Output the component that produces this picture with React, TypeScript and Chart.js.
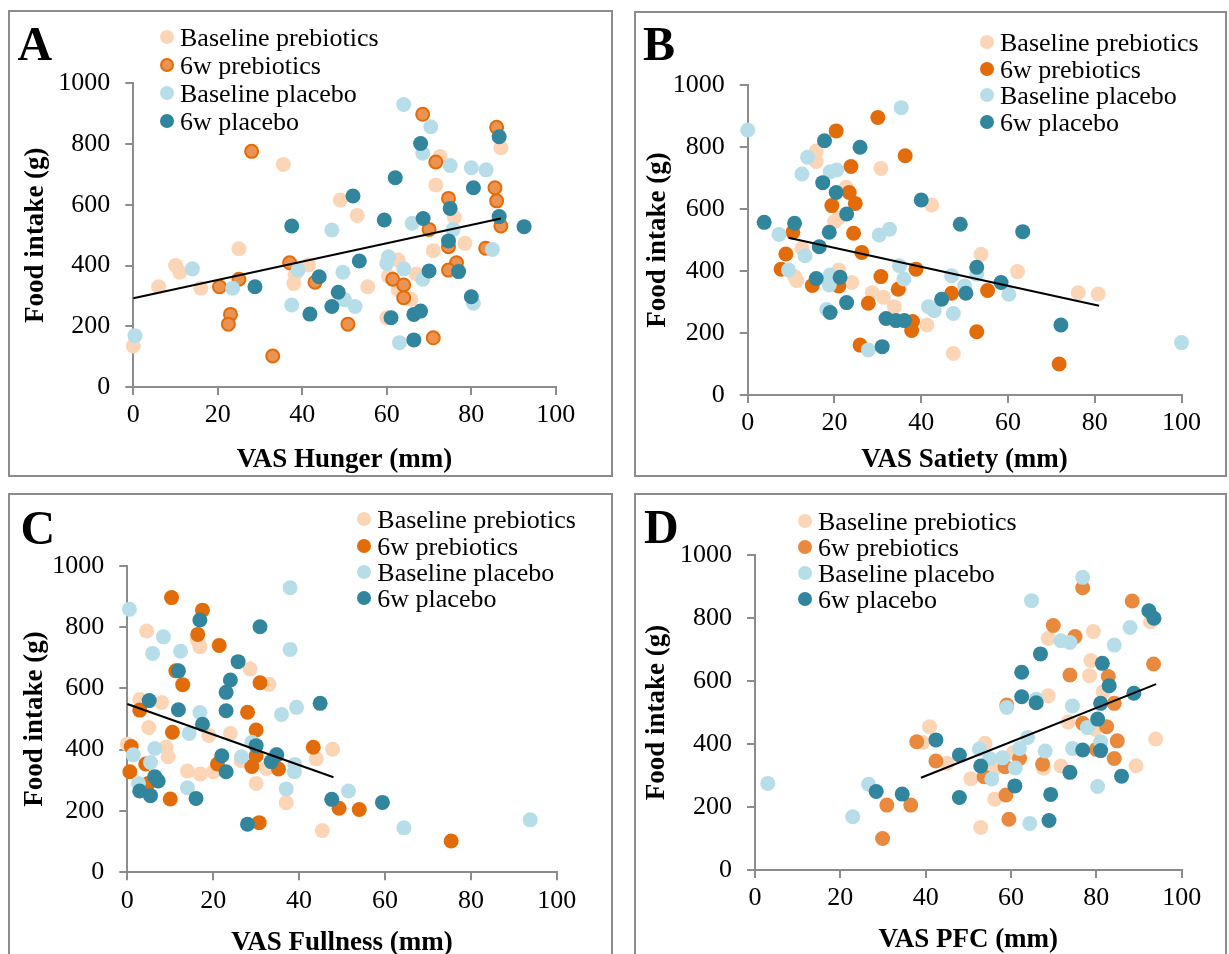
import React, { useEffect, useRef } from "react";
import { Chart, registerables } from "chart.js";

Chart.register(...registerables);

const FONT = "'Liberation Serif', 'Times New Roman', serif";

const SERIES_NAMES = ["Baseline prebiotics", "6w prebiotics", "Baseline placebo", "6w placebo"];
const X_MIN = 0, X_MAX = 100, X_STEP = 20;
const Y_MIN = 0, Y_MAX = 1000, Y_STEP = 200;
const Y_TITLE = "Food intake (g)";
const X_TITLES = ["VAS Hunger (mm)", "VAS Satiety (mm)", "VAS Fullness (mm)", "VAS PFC (mm)"];
const PANEL_LETTERS = ["A", "B", "C", "D"];

// ---- Panel A: VAS Hunger ----
const aBasePre = [[0,135],[6,330],[10,400],[11,378],[16,325],[25,455],[35.5,733],[38,341],[38.3,372],[41.5,402],[49,616],[72.6,759],[87,788],[71.6,665],[76,558],[53,565],[78.5,473],[71,449],[55.5,330],[62.7,418],[60.4,365],[62.7,320],[65.7,289],[60,228],[67,372]];
const a6wPre = [[28,776],[20.4,330],[25,355],[23,239],[22.5,207],[33,102],[37,409],[43,345],[50.8,207],[68.5,898],[86,855],[71.6,741],[85.6,656],[86,613],[74.6,621],[70,519],[74.6,462],[87,530],[83.4,457],[76.5,409],[74.6,385],[61.4,355],[64,336],[64,294],[71,162]];
const aBasePla = [[0.4,169],[14,389],[23.5,325],[37.5,270],[39,385],[47,517],[49.6,378],[50,287],[52.5,265],[64,930],[70.4,857],[68.5,770],[75,729],[80,722],[83.5,715],[66,539],[75.7,519],[85,453],[60.4,429],[60,407],[64,389],[68.5,355],[80.5,276],[63,146]];
const a6wPla = [[28.8,330],[37.5,530],[44,363],[41.8,240],[48.5,312],[47,265],[52,629],[68,802],[86.6,824],[62,689],[80.5,656],[75,588],[86.6,561],[92.5,528],[59.4,550],[68.6,555],[74.6,481],[53.5,415],[70,382],[77,380],[80,297],[61,228],[66.4,239],[68,250],[66.4,155]];
const aTrend = [[0,292],[87,555]];

// ---- Panel B: VAS Satiety ----
const bBasePre = [[15.8,787],[15.8,753],[30.7,731],[22.7,670],[42.4,613],[20,559],[20.9,570],[12.5,473],[11.3,369],[10.8,382],[21,403],[24,363],[28.7,330],[31.3,315],[33.8,285],[35,345],[41.3,226],[47.4,134],[53.8,454],[62.2,398],[76.2,330],[80.8,326]];
const b6wPre = [[30,895],[20.4,852],[36.3,772],[23.8,737],[23.4,653],[24.8,618],[19.4,611],[24.4,522],[10.4,525],[8.8,455],[7.7,406],[26.3,460],[38.8,406],[30.7,382],[14.9,353],[21,352],[34.7,341],[27.8,296],[38,237],[37.8,208],[25.9,161],[47,328],[55.3,337],[52.8,204],[71.8,100]];
const bBasePla = [[0,855],[35.4,927],[13.8,767],[12.5,713],[19,720],[20.5,726],[7.2,518],[13.2,449],[9.4,403],[30.3,516],[32.7,535],[35,417],[36,374],[19,387],[18.8,355],[18.2,276],[27.8,145],[41.7,285],[43,272],[47,385],[47.4,263],[50,352],[52.8,390],[60.2,325],[100,169]];
const b6wPla = [[3.8,557],[10.8,554],[17.7,820],[25.9,799],[17.3,685],[20.4,653],[22.8,584],[40,629],[18.8,525],[16.5,478],[15.8,376],[21.3,380],[19,266],[22.8,298],[31.9,247],[34.2,240],[36.1,240],[31,156],[44.7,309],[49,551],[50.3,328],[63.4,527],[52.8,412],[58.4,363],[72.2,226]];
const bTrend = [[9.4,507],[81,288]];

// ---- Panel C: VAS Fullness ----
const cBasePre = [[4.5,787],[16.3,758],[16.9,736],[28.6,663],[33,613],[2.9,564],[8,554],[5,472],[19,446],[24,453],[0,418],[9,408],[9.5,377],[14,330],[17,321],[20,328],[26.5,364],[32.4,339],[30,290],[37,227],[44,370],[47.8,401],[45.4,136]];
const c6wPre = [[10.3,896],[17.5,855],[16.4,776],[21.4,740],[11.3,657],[12.9,612],[30.9,618],[2.9,529],[28,522],[30,464],[10.5,457],[0.9,410],[0.6,328],[4.3,353],[4.9,290],[30,380],[29,345],[35.2,337],[21,353],[43.3,408],[10,239],[30.7,162],[49.3,209],[54,205],[75.4,102]];
const cBasePla = [[0.5,858],[37.9,928],[8.4,768],[5.9,714],[12.4,721],[37.9,727],[16.9,521],[35.9,515],[39.4,538],[14.4,453],[6.4,404],[1.4,383],[5.4,358],[2.6,290],[14,276],[26.6,377],[29,424],[34.6,385],[38.9,328],[39,352],[37,272],[51.5,265],[64.4,145],[93.8,171]];
const c6wPla = [[16.9,823],[30.9,801],[25.8,687],[24,627],[11.9,657],[23,587],[5.1,560],[11.9,530],[23,527],[17.5,483],[44.9,551],[30,413],[22,380],[23,328],[34.8,383],[33.5,361],[6.4,312],[7.2,298],[2.9,265],[5.4,250],[16,241],[47.6,238],[28,157],[59.4,228]];
const cTrend = [[0,549],[48,310]];

// ---- Panel D: VAS PFC ----
const dBasePre = [[40.9,455],[39.3,405],[45,339],[50.6,290],[92.7,788],[79.3,757],[68.7,735],[78.7,665],[78.4,617],[81.6,566],[68.7,553],[73.4,470],[79.7,447],[93.9,416],[53.9,402],[60.5,372],[67.6,323],[71.7,330],[89.3,331],[56,320],[56.2,225],[52.9,135]];
const d6wPre = [[30.9,206],[36.5,206],[29.9,100],[37.9,407],[42.4,346],[76.8,896],[88.4,854],[69.9,776],[75,741],[93.4,654],[82.8,614],[73.8,619],[59,524],[84.2,529],[76.8,466],[82.4,455],[84.9,410],[80,383],[62,354],[84.2,354],[67.4,336],[58.6,328],[53.7,296],[58.8,238],[59.5,161]];
const dBasePla = [[3,275],[26.6,272],[22.9,169],[76.8,929],[64.8,855],[87.9,770],[71.7,728],[73.8,722],[84.2,714],[59,516],[65.9,542],[74.4,521],[77.9,452],[63.9,421],[62,386],[52.6,384],[55,354],[58,356],[61,324],[55.5,289],[68,378],[74.4,386],[81,407],[80.3,265],[64.4,148]];
const d6wPla = [[28.4,249],[34.5,241],[42.4,413],[47.9,365],[47.9,230],[92.3,823],[93.5,799],[66.9,686],[62.5,628],[81.4,656],[83,585],[62.5,550],[65.9,531],[88.8,561],[81,529],[80.3,479],[76.8,381],[81,379],[52.9,330],[73.8,310],[85.9,298],[60.9,267],[69.3,240],[68.9,157]];
const dTrend = [[38.9,293],[94,590]];

const C_BASE_PRE = "#FBD5B6";
const C_6W_PRE = "#E36C0A";
const C_6W_PRE_A_FILL = "#EB9350";
const C_6W_PRE_D = "#E8893D";
const C_BASE_PLA = "#B7DEE8";
const C_6W_PLA = "#31859C";
const AXIS_GRAY = "#8c8c8c";

type Style = { fill: string; stroke: string; bw: number };
type PanelCfg = {
  letter: string;
  xTitle: string;
  series: number[][][];
  trend: number[][];
  styles: Style[];
  box: { l: number; t: number; r: number; b: number };
  plot: { l: number; t: number; r: number; b: number };
  yTitleX: number;
  xTitleY: number;
  legendX: number;
  legendY: number[];
  letterPos: { l: number; t: number };
};

const solid = (c: string): Style => ({ fill: c, stroke: c, bw: 0 });

const PANELS: PanelCfg[] = [
  {
    letter: PANEL_LETTERS[0], xTitle: X_TITLES[0],
    series: [aBasePre, a6wPre, aBasePla, a6wPla], trend: aTrend,
    styles: [solid(C_BASE_PRE), { fill: C_6W_PRE_A_FILL, stroke: C_6W_PRE, bw: 2 }, solid(C_BASE_PLA), solid(C_6W_PLA)],
    box: { l: 8, t: 10, r: 613, b: 477 },
    plot: { l: 133.3, t: 83.3, r: 555.8, b: 387 },
    yTitleX: 36, xTitleY: 460,
    legendX: 167, legendY: [36.5, 64.5, 92.5, 120.5],
    letterPos: { l: 17.6, t: 19.6 },
  },
  {
    letter: PANEL_LETTERS[1], xTitle: X_TITLES[1],
    series: [bBasePre, b6wPre, bBasePla, b6wPla], trend: bTrend,
    styles: [solid(C_BASE_PRE), solid(C_6W_PRE), solid(C_BASE_PLA), solid(C_6W_PLA)],
    box: { l: 634, t: 11, r: 1227, b: 477 },
    plot: { l: 747.7, t: 85, r: 1181.5, b: 395 },
    yTitleX: 658, xTitleY: 460,
    legendX: 987, legendY: [42, 68.5, 95, 121.5],
    letterPos: { l: 643, t: 19.6 },
  },
  {
    letter: PANEL_LETTERS[2], xTitle: X_TITLES[2],
    series: [cBasePre, c6wPre, cBasePla, c6wPla], trend: cTrend,
    styles: [solid(C_BASE_PRE), solid(C_6W_PRE), solid(C_BASE_PLA), solid(C_6W_PLA)],
    box: { l: 8, t: 493, r: 613, b: 960 },
    plot: { l: 127.3, t: 565.7, r: 556.8, b: 872.3 },
    yTitleX: 35, xTitleY: 943,
    legendX: 364.3, legendY: [519.3, 545.5, 571.5, 597.5],
    letterPos: { l: 20.5, t: 503.6 },
  },
  {
    letter: PANEL_LETTERS[3], xTitle: X_TITLES[3],
    series: [dBasePre, d6wPre, dBasePla, d6wPla], trend: dTrend,
    styles: [solid(C_BASE_PRE), solid(C_6W_PRE_D), solid(C_BASE_PLA), solid(C_6W_PLA)],
    box: { l: 634, t: 493, r: 1227, b: 960 },
    plot: { l: 755, t: 555, r: 1181.7, b: 870 },
    yTitleX: 657, xTitleY: 940,
    legendX: 805, legendY: [520.5, 546.7, 573, 599.3],
    letterPos: { l: 644, t: 502.6 },
  },
];

const TICK_FONT = { family: FONT, size: 26 };
const TITLE_FONT = { family: FONT, size: 27, weight: "bold" as const };
const HALF_TITLE_LH = (27 * 1.2) / 2;
const plainTick = (v: any) => String(v);

function Panel({ cfg }: { cfg: PanelCfg }) {
  const ref = useRef<HTMLCanvasElement | null>(null);
  const w = cfg.box.r - cfg.box.l;
  const h = cfg.box.b - cfg.box.t;

  useEffect(() => {
    if (!ref.current) return;
    const yScaleWidth = cfg.plot.l - cfg.box.l;
    const xScaleHeight = cfg.box.b - cfg.plot.b;
    const padTop = cfg.plot.t - cfg.box.t;
    const padRight = cfg.box.r - cfg.plot.r;

    const datasets: any[] = cfg.series.map((pts, i) => ({
      label: SERIES_NAMES[i],
      data: pts.map(([x, y]) => ({ x, y })),
      backgroundColor: cfg.styles[i].fill,
      borderColor: cfg.styles[i].stroke,
      borderWidth: cfg.styles[i].bw,
      pointRadius: cfg.styles[i].bw > 0 ? 6.5 : 7.5,
      pointHoverRadius: 7.5,
      showLine: false,
      clip: false,
      order: 4 - i,
    }));
    datasets.push({
      label: "Trend",
      data: cfg.trend.map(([x, y]) => ({ x, y })),
      showLine: true,
      borderColor: "#000000",
      backgroundColor: "#000000",
      borderWidth: 2,
      pointRadius: 0,
      clip: false,
      order: 0,
    });

    const chart = new Chart(ref.current, {
      type: "scatter",
      data: { datasets },
      options: {
        responsive: false,
        animation: false,
        devicePixelRatio: 1,
        events: [],
        layout: { padding: { top: padTop, right: padRight, left: 0, bottom: 0 } },
        plugins: { legend: { display: false }, tooltip: { enabled: false } },
        scales: {
          x: {
            type: "linear",
            min: X_MIN,
            max: X_MAX,
            ticks: { stepSize: X_STEP, font: TICK_FONT, color: "#000", padding: 5, maxRotation: 0, autoSkip: false, callback: plainTick },
            grid: { drawOnChartArea: false, drawTicks: true, tickLength: 8, color: AXIS_GRAY, lineWidth: 2 },
            border: { display: true, color: AXIS_GRAY, width: 2 },
            title: {
              display: true,
              text: cfg.xTitle,
              font: TITLE_FONT,
              color: "#000",
              padding: { top: 0, bottom: cfg.box.b - cfg.xTitleY - HALF_TITLE_LH },
            },
            afterFit: (s: any) => { s.height = xScaleHeight; },
          },
          y: {
            type: "linear",
            min: Y_MIN,
            max: Y_MAX,
            ticks: { stepSize: Y_STEP, font: TICK_FONT, color: "#000", padding: 15, callback: plainTick },
            grid: { drawOnChartArea: false, drawTicks: true, tickLength: 8, color: AXIS_GRAY, lineWidth: 2 },
            border: { display: true, color: AXIS_GRAY, width: 2 },
            title: {
              display: true,
              text: Y_TITLE,
              font: TITLE_FONT,
              color: "#000",
              padding: { top: cfg.yTitleX - cfg.box.l - HALF_TITLE_LH, bottom: 0 },
            },
            afterFit: (s: any) => { s.width = yScaleWidth; },
          },
        },
      } as any,
    });
    return () => chart.destroy();
  }, [cfg]);

  return (
    <>
      <div
        style={{
          position: "absolute",
          left: cfg.box.l,
          top: cfg.box.t,
          width: w,
          height: h,
          border: `2px solid ${AXIS_GRAY}`,
          boxSizing: "border-box",
          background: "#fff",
        }}
      />
      <canvas
        ref={ref}
        width={w}
        height={h}
        style={{ position: "absolute", left: cfg.box.l, top: cfg.box.t, width: w, height: h }}
      />
      <div
        style={{
          position: "absolute",
          left: cfg.letterPos.l,
          top: cfg.letterPos.t,
          fontFamily: FONT,
          fontWeight: "bold",
          fontSize: 48,
          lineHeight: "48px",
          color: "#000",
          whiteSpace: "nowrap",
        }}
      >
        {cfg.letter}
      </div>
      {SERIES_NAMES.map((name, i) => (
        <div
          key={name}
          style={{
            position: "absolute",
            left: cfg.legendX - 7,
            top: cfg.legendY[i] - 14,
            height: 28,
            display: "flex",
            alignItems: "center",
            whiteSpace: "nowrap",
          }}
        >
          <span
            style={{
              display: "inline-block",
              width: 14,
              height: 14,
              borderRadius: "50%",
              background: cfg.styles[i].fill,
              border: cfg.styles[i].bw > 0 ? `2px solid ${cfg.styles[i].stroke}` : "none",
              boxSizing: "border-box",
              flex: "0 0 auto",
            }}
          />
          <span
            style={{
              marginLeft: 6,
              fontFamily: FONT,
              fontSize: 26,
              lineHeight: "28px",
              color: "#000",
              position: "relative",
              top: 1,
            }}
          >
            {name}
          </span>
        </div>
      ))}
    </>
  );
}

export default function App() {
  return (
    <div
      style={{
        position: "absolute",
        left: 0,
        top: 0,
        width: 1229,
        height: 954,
        overflow: "hidden",
        background: "#fff",
      }}
    >
      {PANELS.map((p) => (
        <Panel key={p.letter} cfg={p} />
      ))}
    </div>
  );
}
